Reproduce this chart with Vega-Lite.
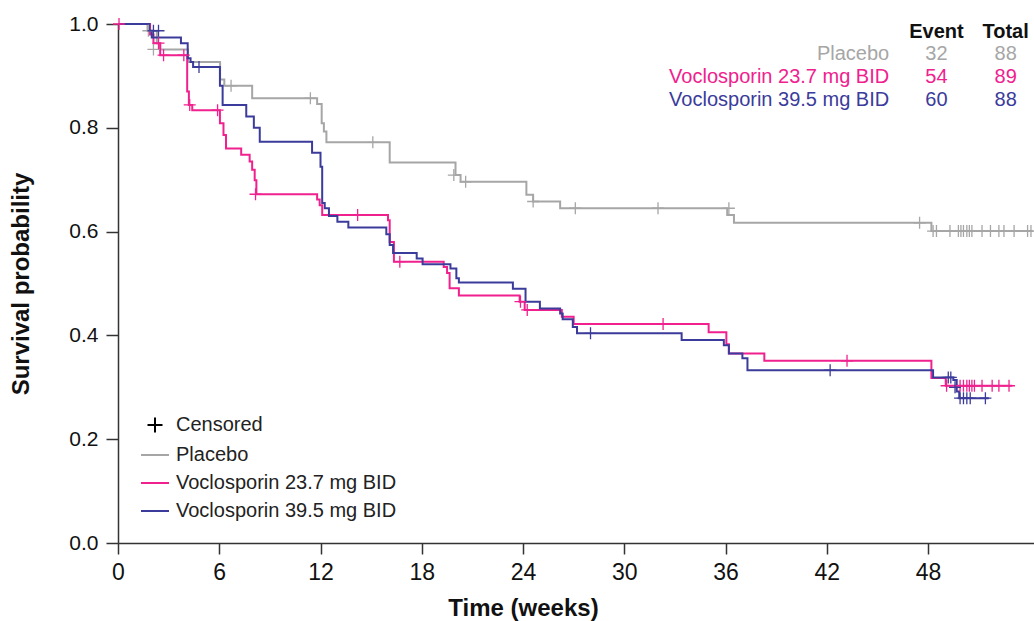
{
  "$schema": "https://vega.github.io/schema/vega-lite/v6.json",
  "width": 916,
  "height": 519,
  "autosize": {"type": "none"},
  "padding": {"left": 118, "top": 24, "right": 0, "bottom": 78},
  "background": "white",
  "config": {
    "view": {"stroke": null},
    "axis": {"grid": false},
    "font": "Liberation Sans"
  },
  "datasets": {
    "curves": [
      {"g": "Placebo", "t": 0, "s": 1.0},
      {"g": "Placebo", "t": 1.75, "s": 0.987},
      {"g": "Placebo", "t": 2.3, "s": 0.963},
      {"g": "Placebo", "t": 2.5, "s": 0.951},
      {"g": "Placebo", "t": 4.15, "s": 0.927},
      {"g": "Placebo", "t": 6.05, "s": 0.893},
      {"g": "Placebo", "t": 6.3, "s": 0.881},
      {"g": "Placebo", "t": 7.95, "s": 0.857},
      {"g": "Placebo", "t": 11.8, "s": 0.846},
      {"g": "Placebo", "t": 12.07, "s": 0.809},
      {"g": "Placebo", "t": 12.2, "s": 0.793},
      {"g": "Placebo", "t": 12.35, "s": 0.772},
      {"g": "Placebo", "t": 16.1, "s": 0.733},
      {"g": "Placebo", "t": 20.0, "s": 0.709},
      {"g": "Placebo", "t": 20.3, "s": 0.696},
      {"g": "Placebo", "t": 24.2, "s": 0.671},
      {"g": "Placebo", "t": 24.6, "s": 0.658},
      {"g": "Placebo", "t": 26.2, "s": 0.645},
      {"g": "Placebo", "t": 36.1, "s": 0.632},
      {"g": "Placebo", "t": 36.5, "s": 0.617},
      {"g": "Placebo", "t": 48.2, "s": 0.601},
      {"g": "Placebo", "t": 54.2, "s": 0.601},
      {"g": "Voclosporin 23.7 mg BID", "t": 0, "s": 1.0},
      {"g": "Voclosporin 23.7 mg BID", "t": 1.9, "s": 0.98},
      {"g": "Voclosporin 23.7 mg BID", "t": 2.1, "s": 0.963},
      {"g": "Voclosporin 23.7 mg BID", "t": 2.5, "s": 0.94},
      {"g": "Voclosporin 23.7 mg BID", "t": 4.1, "s": 0.87},
      {"g": "Voclosporin 23.7 mg BID", "t": 4.2, "s": 0.844},
      {"g": "Voclosporin 23.7 mg BID", "t": 4.4, "s": 0.834},
      {"g": "Voclosporin 23.7 mg BID", "t": 6.04, "s": 0.809},
      {"g": "Voclosporin 23.7 mg BID", "t": 6.25, "s": 0.786},
      {"g": "Voclosporin 23.7 mg BID", "t": 6.4, "s": 0.76},
      {"g": "Voclosporin 23.7 mg BID", "t": 7.3, "s": 0.748},
      {"g": "Voclosporin 23.7 mg BID", "t": 7.8, "s": 0.735},
      {"g": "Voclosporin 23.7 mg BID", "t": 7.95, "s": 0.719},
      {"g": "Voclosporin 23.7 mg BID", "t": 8.1, "s": 0.699},
      {"g": "Voclosporin 23.7 mg BID", "t": 8.2, "s": 0.672},
      {"g": "Voclosporin 23.7 mg BID", "t": 11.8, "s": 0.662},
      {"g": "Voclosporin 23.7 mg BID", "t": 11.95, "s": 0.651},
      {"g": "Voclosporin 23.7 mg BID", "t": 12.1, "s": 0.632},
      {"g": "Voclosporin 23.7 mg BID", "t": 16.0, "s": 0.622},
      {"g": "Voclosporin 23.7 mg BID", "t": 16.1, "s": 0.58},
      {"g": "Voclosporin 23.7 mg BID", "t": 16.35, "s": 0.542},
      {"g": "Voclosporin 23.7 mg BID", "t": 19.3, "s": 0.532},
      {"g": "Voclosporin 23.7 mg BID", "t": 19.5, "s": 0.52},
      {"g": "Voclosporin 23.7 mg BID", "t": 19.65, "s": 0.491},
      {"g": "Voclosporin 23.7 mg BID", "t": 20.2, "s": 0.477},
      {"g": "Voclosporin 23.7 mg BID", "t": 23.8, "s": 0.465},
      {"g": "Voclosporin 23.7 mg BID", "t": 24.1, "s": 0.449},
      {"g": "Voclosporin 23.7 mg BID", "t": 26.3, "s": 0.436},
      {"g": "Voclosporin 23.7 mg BID", "t": 27.0, "s": 0.422},
      {"g": "Voclosporin 23.7 mg BID", "t": 35.0, "s": 0.406},
      {"g": "Voclosporin 23.7 mg BID", "t": 36.05, "s": 0.383},
      {"g": "Voclosporin 23.7 mg BID", "t": 36.2, "s": 0.365},
      {"g": "Voclosporin 23.7 mg BID", "t": 38.3, "s": 0.351},
      {"g": "Voclosporin 23.7 mg BID", "t": 48.2, "s": 0.318},
      {"g": "Voclosporin 23.7 mg BID", "t": 49.05, "s": 0.303},
      {"g": "Voclosporin 23.7 mg BID", "t": 53.0, "s": 0.303},
      {"g": "Voclosporin 39.5 mg BID", "t": 0, "s": 1.0},
      {"g": "Voclosporin 39.5 mg BID", "t": 1.86, "s": 0.987},
      {"g": "Voclosporin 39.5 mg BID", "t": 2.0, "s": 0.974},
      {"g": "Voclosporin 39.5 mg BID", "t": 3.73, "s": 0.963},
      {"g": "Voclosporin 39.5 mg BID", "t": 4.13, "s": 0.934},
      {"g": "Voclosporin 39.5 mg BID", "t": 4.3, "s": 0.927},
      {"g": "Voclosporin 39.5 mg BID", "t": 4.45, "s": 0.917},
      {"g": "Voclosporin 39.5 mg BID", "t": 6.04, "s": 0.881},
      {"g": "Voclosporin 39.5 mg BID", "t": 6.2, "s": 0.844},
      {"g": "Voclosporin 39.5 mg BID", "t": 7.6, "s": 0.822},
      {"g": "Voclosporin 39.5 mg BID", "t": 8.05, "s": 0.8},
      {"g": "Voclosporin 39.5 mg BID", "t": 8.4, "s": 0.773},
      {"g": "Voclosporin 39.5 mg BID", "t": 11.5, "s": 0.752},
      {"g": "Voclosporin 39.5 mg BID", "t": 12.0, "s": 0.725},
      {"g": "Voclosporin 39.5 mg BID", "t": 12.1, "s": 0.655},
      {"g": "Voclosporin 39.5 mg BID", "t": 12.25, "s": 0.645},
      {"g": "Voclosporin 39.5 mg BID", "t": 12.5, "s": 0.63},
      {"g": "Voclosporin 39.5 mg BID", "t": 13.0, "s": 0.619},
      {"g": "Voclosporin 39.5 mg BID", "t": 13.65, "s": 0.608},
      {"g": "Voclosporin 39.5 mg BID", "t": 15.9, "s": 0.595},
      {"g": "Voclosporin 39.5 mg BID", "t": 16.1, "s": 0.574},
      {"g": "Voclosporin 39.5 mg BID", "t": 16.3, "s": 0.559},
      {"g": "Voclosporin 39.5 mg BID", "t": 17.7, "s": 0.548},
      {"g": "Voclosporin 39.5 mg BID", "t": 18.05, "s": 0.537},
      {"g": "Voclosporin 39.5 mg BID", "t": 19.7, "s": 0.529},
      {"g": "Voclosporin 39.5 mg BID", "t": 20.05, "s": 0.51},
      {"g": "Voclosporin 39.5 mg BID", "t": 20.2, "s": 0.502},
      {"g": "Voclosporin 39.5 mg BID", "t": 23.4, "s": 0.49},
      {"g": "Voclosporin 39.5 mg BID", "t": 24.15, "s": 0.465},
      {"g": "Voclosporin 39.5 mg BID", "t": 25.0, "s": 0.452},
      {"g": "Voclosporin 39.5 mg BID", "t": 26.2, "s": 0.442},
      {"g": "Voclosporin 39.5 mg BID", "t": 26.35, "s": 0.431},
      {"g": "Voclosporin 39.5 mg BID", "t": 26.95, "s": 0.416},
      {"g": "Voclosporin 39.5 mg BID", "t": 27.2, "s": 0.404},
      {"g": "Voclosporin 39.5 mg BID", "t": 33.4, "s": 0.391},
      {"g": "Voclosporin 39.5 mg BID", "t": 35.9, "s": 0.381},
      {"g": "Voclosporin 39.5 mg BID", "t": 36.2, "s": 0.365},
      {"g": "Voclosporin 39.5 mg BID", "t": 37.0, "s": 0.356},
      {"g": "Voclosporin 39.5 mg BID", "t": 37.3, "s": 0.333},
      {"g": "Voclosporin 39.5 mg BID", "t": 48.3, "s": 0.319},
      {"g": "Voclosporin 39.5 mg BID", "t": 49.5, "s": 0.314},
      {"g": "Voclosporin 39.5 mg BID", "t": 49.7, "s": 0.292},
      {"g": "Voclosporin 39.5 mg BID", "t": 49.85, "s": 0.279},
      {"g": "Voclosporin 39.5 mg BID", "t": 51.6, "s": 0.279}
    ],
    "censor": [
      {"g": "Placebo", "t": 1.8, "s": 0.987},
      {"g": "Placebo", "t": 2.1, "s": 0.951},
      {"g": "Placebo", "t": 6.7, "s": 0.881},
      {"g": "Placebo", "t": 11.4, "s": 0.857},
      {"g": "Placebo", "t": 15.1, "s": 0.772},
      {"g": "Placebo", "t": 19.9, "s": 0.709},
      {"g": "Placebo", "t": 20.6, "s": 0.696},
      {"g": "Placebo", "t": 24.6, "s": 0.658},
      {"g": "Placebo", "t": 27.1, "s": 0.645},
      {"g": "Placebo", "t": 32.0, "s": 0.645},
      {"g": "Placebo", "t": 36.2, "s": 0.645},
      {"g": "Placebo", "t": 47.5, "s": 0.617},
      {"g": "Placebo", "t": 48.3, "s": 0.601},
      {"g": "Placebo", "t": 48.5, "s": 0.601},
      {"g": "Placebo", "t": 49.3, "s": 0.601},
      {"g": "Placebo", "t": 49.8, "s": 0.601},
      {"g": "Placebo", "t": 49.95, "s": 0.601},
      {"g": "Placebo", "t": 50.1, "s": 0.601},
      {"g": "Placebo", "t": 50.3, "s": 0.601},
      {"g": "Placebo", "t": 50.45, "s": 0.601},
      {"g": "Placebo", "t": 50.6, "s": 0.601},
      {"g": "Placebo", "t": 51.2, "s": 0.601},
      {"g": "Placebo", "t": 51.7, "s": 0.601},
      {"g": "Placebo", "t": 52.2, "s": 0.601},
      {"g": "Placebo", "t": 52.5, "s": 0.601},
      {"g": "Placebo", "t": 53.1, "s": 0.601},
      {"g": "Placebo", "t": 53.9, "s": 0.601},
      {"g": "Placebo", "t": 54.1, "s": 0.601},
      {"g": "Voclosporin 23.7 mg BID", "t": 0.06, "s": 1.0},
      {"g": "Voclosporin 23.7 mg BID", "t": 2.4, "s": 0.963},
      {"g": "Voclosporin 23.7 mg BID", "t": 2.7, "s": 0.94},
      {"g": "Voclosporin 23.7 mg BID", "t": 3.9, "s": 0.94},
      {"g": "Voclosporin 23.7 mg BID", "t": 4.25, "s": 0.844},
      {"g": "Voclosporin 23.7 mg BID", "t": 5.9, "s": 0.834},
      {"g": "Voclosporin 23.7 mg BID", "t": 8.15, "s": 0.672},
      {"g": "Voclosporin 23.7 mg BID", "t": 14.2, "s": 0.632},
      {"g": "Voclosporin 23.7 mg BID", "t": 16.7, "s": 0.542},
      {"g": "Voclosporin 23.7 mg BID", "t": 23.85, "s": 0.465},
      {"g": "Voclosporin 23.7 mg BID", "t": 24.25, "s": 0.449},
      {"g": "Voclosporin 23.7 mg BID", "t": 32.3, "s": 0.422},
      {"g": "Voclosporin 23.7 mg BID", "t": 43.2, "s": 0.351},
      {"g": "Voclosporin 23.7 mg BID", "t": 49.1, "s": 0.303},
      {"g": "Voclosporin 23.7 mg BID", "t": 49.9, "s": 0.303},
      {"g": "Voclosporin 23.7 mg BID", "t": 50.1, "s": 0.303},
      {"g": "Voclosporin 23.7 mg BID", "t": 50.3, "s": 0.303},
      {"g": "Voclosporin 23.7 mg BID", "t": 50.45, "s": 0.303},
      {"g": "Voclosporin 23.7 mg BID", "t": 50.6, "s": 0.303},
      {"g": "Voclosporin 23.7 mg BID", "t": 50.75, "s": 0.303},
      {"g": "Voclosporin 23.7 mg BID", "t": 51.2, "s": 0.303},
      {"g": "Voclosporin 23.7 mg BID", "t": 51.8, "s": 0.303},
      {"g": "Voclosporin 23.7 mg BID", "t": 52.2, "s": 0.303},
      {"g": "Voclosporin 23.7 mg BID", "t": 52.8, "s": 0.303},
      {"g": "Voclosporin 39.5 mg BID", "t": 2.1, "s": 0.987},
      {"g": "Voclosporin 39.5 mg BID", "t": 2.4, "s": 0.987},
      {"g": "Voclosporin 39.5 mg BID", "t": 4.8, "s": 0.917},
      {"g": "Voclosporin 39.5 mg BID", "t": 28.0, "s": 0.404},
      {"g": "Voclosporin 39.5 mg BID", "t": 42.2, "s": 0.333},
      {"g": "Voclosporin 39.5 mg BID", "t": 49.2, "s": 0.319},
      {"g": "Voclosporin 39.5 mg BID", "t": 49.35, "s": 0.319},
      {"g": "Voclosporin 39.5 mg BID", "t": 49.6, "s": 0.3},
      {"g": "Voclosporin 39.5 mg BID", "t": 49.9, "s": 0.279},
      {"g": "Voclosporin 39.5 mg BID", "t": 50.1, "s": 0.279},
      {"g": "Voclosporin 39.5 mg BID", "t": 50.3, "s": 0.279},
      {"g": "Voclosporin 39.5 mg BID", "t": 50.5, "s": 0.279},
      {"g": "Voclosporin 39.5 mg BID", "t": 51.4, "s": 0.279}
    ],
    "table": [
      {"g": "Placebo", "event": "32", "total": "88"},
      {"g": "Voclosporin 23.7 mg BID", "event": "54", "total": "89"},
      {"g": "Voclosporin 39.5 mg BID", "event": "60", "total": "88"}
    ],
    "header": [
      {"g": "header", "event": "Event", "total": "Total"}
    ]
  },
  "resolve": {"scale": {"y": "independent"}, "axis": {"y": "independent"}},
  "layer": [
    {
      "data": {"name": "curves"},
      "mark": {"type": "line", "interpolate": "step-after", "strokeWidth": 2},
      "encoding": {
        "x": {
          "field": "t", "type": "quantitative",
          "scale": {"domain": [0, 54.28], "nice": false, "zero": false},
          "axis": {
            "values": [0, 6, 12, 18, 24, 30, 36, 42, 48],
            "title": "Time (weeks)",
            "titleFont": "Liberation Sans", "titleFontSize": 24, "titleFontWeight": "bold", "titleColor": "#111",
            "titleX": 405, "titleY": 65, "titleBaseline": "middle",
            "labelFont": "Liberation Sans", "labelFontSize": 23, "labelColor": "#111", "labelFlush": false,
            "labelPadding": 7, "tickSize": 11, "tickWidth": 1.5, "tickColor": "#333",
            "domainColor": "#333", "domainWidth": 1.5
          }
        },
        "y": {
          "field": "s", "type": "quantitative",
          "scale": {"domain": [0, 1], "nice": false},
          "axis": {
            "values": [0, 0.2, 0.4, 0.6, 0.8, 1.0], "format": ".1f",
            "title": "Survival probability",
            "titleFont": "Liberation Sans", "titleFontSize": 24, "titleFontWeight": "bold", "titleColor": "#111",
            "titleX": -97, "titleY": 259.5, "titleBaseline": "middle", "titleAngle": -90,
            "labelFont": "Liberation Sans", "labelFontSize": 21, "labelColor": "#111", "labelFlush": false,
            "labelPadding": 8, "tickSize": 12, "tickWidth": 1.5, "tickColor": "#333",
            "domainColor": "#333", "domainWidth": 1.5
          }
        },
        "color": {
          "field": "g", "type": "nominal",
          "scale": {
            "domain": ["Censored", "Placebo", "Voclosporin 23.7 mg BID", "Voclosporin 39.5 mg BID"],
            "range": ["#000000", "#a6a6a6", "#f0218e", "#3b3b9b"]
          },
          "legend": {
            "orient": "bottom-left", "offset": 22, "title": null,
            "symbolType": "stroke", "symbolSize": 784, "symbolStrokeWidth": 2,
            "labelFont": "Liberation Sans", "labelFontSize": 20, "labelColor": "#222",
            "labelOffset": 6, "rowPadding": 3, "labelLimit": 0,
            "encode": {
              "symbols": {
                "update": {
                  "shape": {"signal": "datum.value === 'Censored' ? 'M-1,0L1,0M0,-1L0,1' : 'stroke'"},
                  "size": {"signal": "datum.value === 'Censored' ? 225 : 784"}
                }
              }
            }
          }
        }
      }
    },
    {
      "data": {"name": "censor"},
      "mark": {"type": "point", "shape": "M-1,0L1,0M0,-1L0,1", "filled": false, "size": 144, "strokeWidth": 1.3, "opacity": 1},
      "encoding": {
        "x": {"field": "t", "type": "quantitative"},
        "y": {"field": "s", "type": "quantitative", "scale": {"domain": [0, 1], "nice": false}, "axis": null},
        "stroke": {
          "field": "g", "type": "nominal",
          "scale": {
            "domain": ["Placebo", "Voclosporin 23.7 mg BID", "Voclosporin 39.5 mg BID"],
            "range": ["#a6a6a6", "#f0218e", "#3b3b9b"]
          },
          "legend": null
        }
      }
    },
    {
      "data": {"name": "table"},
      "mark": {"type": "text", "align": "right", "baseline": "middle", "font": "Liberation Sans", "fontSize": 20},
      "encoding": {
        "x": {"datum": 45.7},
        "y": {"field": "g", "type": "ordinal", "scale": {"type": "point", "domain": ["header", "Placebo", "Voclosporin 23.7 mg BID", "Voclosporin 39.5 mg BID"], "range": [7.7, 76], "padding": 0}, "axis": null},
        "text": {"field": "g"},
        "color": {"field": "g", "type": "nominal", "legend": null}
      }
    },
    {
      "data": {"name": "table"},
      "mark": {"type": "text", "align": "center", "baseline": "middle", "font": "Liberation Sans", "fontSize": 20},
      "encoding": {
        "x": {"datum": 48.5},
        "y": {"field": "g", "type": "ordinal", "scale": {"type": "point", "domain": ["header", "Placebo", "Voclosporin 23.7 mg BID", "Voclosporin 39.5 mg BID"], "range": [7.7, 76], "padding": 0}, "axis": null},
        "text": {"field": "event"},
        "color": {"field": "g", "type": "nominal", "legend": null}
      }
    },
    {
      "data": {"name": "table"},
      "mark": {"type": "text", "align": "center", "baseline": "middle", "font": "Liberation Sans", "fontSize": 20},
      "encoding": {
        "x": {"datum": 52.6},
        "y": {"field": "g", "type": "ordinal", "scale": {"type": "point", "domain": ["header", "Placebo", "Voclosporin 23.7 mg BID", "Voclosporin 39.5 mg BID"], "range": [7.7, 76], "padding": 0}, "axis": null},
        "text": {"field": "total"},
        "color": {"field": "g", "type": "nominal", "legend": null}
      }
    },
    {
      "data": {"name": "header"},
      "mark": {"type": "text", "align": "center", "baseline": "middle", "font": "Liberation Sans", "fontSize": 20, "fontWeight": "bold", "color": "#111"},
      "encoding": {
        "x": {"datum": 48.5},
        "y": {"field": "g", "type": "ordinal", "scale": {"type": "point", "domain": ["header", "Placebo", "Voclosporin 23.7 mg BID", "Voclosporin 39.5 mg BID"], "range": [7.7, 76], "padding": 0}, "axis": null},
        "text": {"field": "event"}
      }
    },
    {
      "data": {"name": "header"},
      "mark": {"type": "text", "align": "center", "baseline": "middle", "font": "Liberation Sans", "fontSize": 20, "fontWeight": "bold", "color": "#111"},
      "encoding": {
        "x": {"datum": 52.6},
        "y": {"field": "g", "type": "ordinal", "scale": {"type": "point", "domain": ["header", "Placebo", "Voclosporin 23.7 mg BID", "Voclosporin 39.5 mg BID"], "range": [7.7, 76], "padding": 0}, "axis": null},
        "text": {"field": "total"}
      }
    }
  ]
}
